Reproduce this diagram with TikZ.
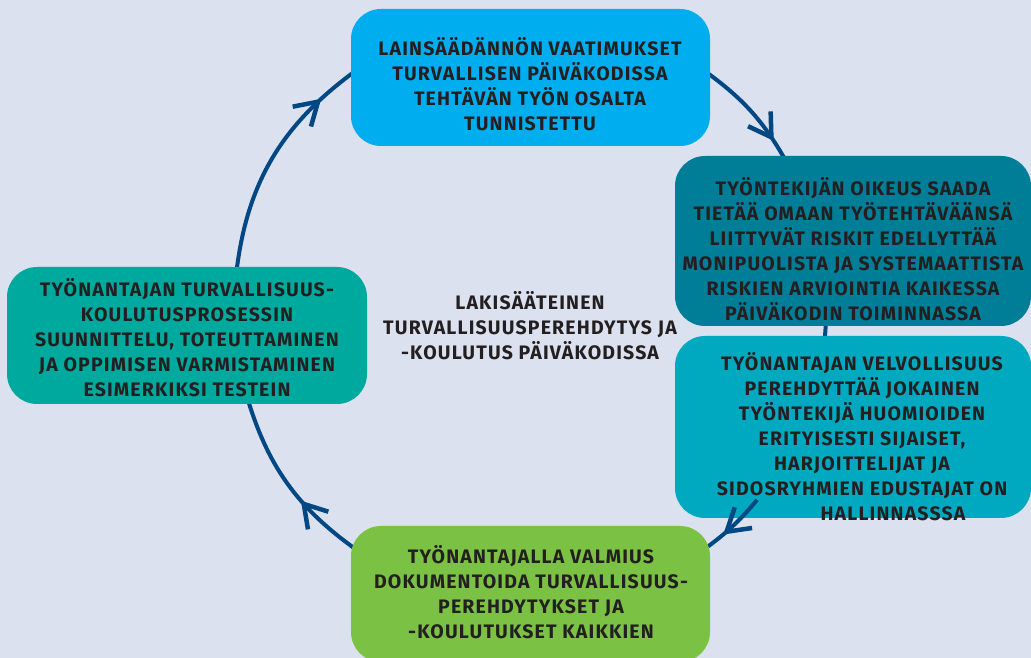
\documentclass[tikz,border=0pt]{standalone}
\usepackage{fontspec}
\setmainfont{Fira Sans}[LetterSpace=6]
\usetikzlibrary{arrows.meta, decorations.markings}
\definecolor{bgblue}{HTML}{DBE1EE}
\definecolor{lawblue}{HTML}{00AEEF}
\definecolor{riskteal}{HTML}{007E98}
\definecolor{dutyteal}{HTML}{00A9BF}
\definecolor{plangreen}{HTML}{00A99D}
\definecolor{docgreen}{HTML}{7BC143}
\definecolor{loopblue}{HTML}{004883}
\definecolor{inkgray}{HTML}{231F20}
\tikzstyle{stage} = [rectangle, rounded corners=30pt, draw=none, inner sep=0pt]
\tikzstyle{stagetext} = [align=center, text=inkgray, inner sep=0pt, font=\fontsize{19.5}{25}\selectfont\bfseries]
\tikzstyle{loopline} = [line width=4pt, draw=loopblue]

\begin{document}
\begin{tikzpicture}[x=1pt, y=1pt,
tipat/.style={postaction={decorate}, decoration={markings, mark=at position #1 with {\arrow[line width=4.5pt]{Straight Barb[length=22pt, width=27pt, line cap=butt]}}}}
]
\fill [bgblue] (0,0) rectangle (1031,658);
\useasboundingbox (0,0) rectangle (1031,658);

\coordinate (c) at (530,348);
\coordinate (planout) at ([shift={(174:296)}]c);
\coordinate (lawin) at ([shift={(126:296)}]c);
\coordinate (lawout) at ([shift={(55:296)}]c);
\coordinate (riskin) at ([shift={(28:296)}]c);
\coordinate (riskout) at ([shift={(0:296)}]c);
\coordinate (dutyin) at ([shift={(-8:296)}]c);
\coordinate (dutyout) at ([shift={(-39.9:296)}]c);
\coordinate (docin) at ([shift={(-53.5:296)}]c);
\coordinate (docout) at ([shift={(235:296)}]c);
\coordinate (planin) at ([shift={(196:296)}]c);

\draw [loopline, tipat=0.82] (planout) to[bend left=24] (lawin);
\draw [loopline, tipat=0.75] (lawout) to[bend left=13.5] (riskin);
\draw [loopline] (riskout) to[bend left=4] (dutyin);
\draw [loopline, tipat=0.39] (docout) to[bend left=19.5] (planin);

\node (law) [stage, fill=lawblue, minimum width=359pt, minimum height=137pt] at (530.5,580.5) {};
\node (risk) [stage, fill=riskteal, minimum width=356pt, minimum height=170pt] at (853,417) {};
\node (duty) [stage, fill=dutyteal, minimum width=356pt, minimum height=182pt] at (853,231) {};
\node (plan) [stage, fill=plangreen, minimum width=360pt, minimum height=137pt] at (187,322.5) {};

\draw [loopline, tipat=0.69] (dutyout) to[bend left=6.8] (docin);

\node (docs) [stage, fill=docgreen, minimum width=359pt, minimum height=136pt] at (530.5,64) {};

\node (lawtext) [stagetext] at (530,574) {LAINSÄÄDÄNNÖN VAATIMUKSET\\TURVALLISEN PÄIVÄKODISSA\\TEHTÄVÄN TYÖN OSALTA\\TUNNISTETTU};
\node (risktext) [stagetext] at (853,409) {TYÖNTEKIJÄN OIKEUS SAADA\\TIETÄÄ OMAAN TYÖTEHTÄVÄÄNSÄ\\LIITTYVÄT RISKIT EDELLYTTÄÄ\\MONIPUOLISTA JA SYSTEMAATTISTA\\RISKIEN ARVIOINTIA KAIKESSA\\PÄIVÄKODIN TOIMINNASSA};
\node (dutytext) [stagetext] at (862,221.5) {TYÖNANTAJAN VELVOLLISUUS\\PEREHDYTTÄÄ JOKAINEN\\TYÖNTEKIJÄ HUOMIOIDEN\\ERITYISESTI SIJAISET,\\HARJOITTELIJAT JA\\SIDOSRYHMIEN EDUSTAJAT ON\\\hspace*{62pt}HALLINNASSSA};
\node (plantext) [stagetext] at (187,320) {TYÖNANTAJAN TURVALLISUUS-\\KOULUTUSPROSESSIN\\SUUNNITTELU, TOTEUTTAMINEN\\JA OPPIMISEN VARMISTAMINEN\\ESIMERKIKSI TESTEIN};
\node (docstext) [stagetext] at (531,66) {TYÖNANTAJALLA VALMIUS\\DOKUMENTOIDA TURVALLISUUS-\\PEREHDYTYKSET JA\\-KOULUTUKSET KAIKKIEN};
\node (core) [stagetext] at (530,332) {LAKISÄÄTEINEN\\TURVALLISUUSPEREHDYTYS JA\\-KOULUTUS PÄIVÄKODISSA};
\end{tikzpicture}
\end{document}
